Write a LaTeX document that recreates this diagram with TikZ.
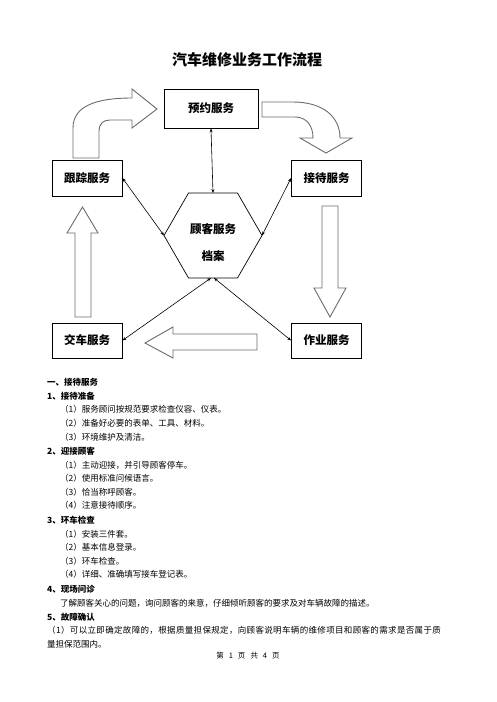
\documentclass[tikz,border=0pt]{standalone}
\usepackage{fontspec}
\setmainfont{Noto Sans CJK SC}
\usepackage{tikz}
\usetikzlibrary{shapes.geometric, arrows.meta, positioning, calc}
\tikzset{
  svcbox/.style={
    draw, line width=0.8pt, minimum width=70pt, minimum height=36pt,
    font=\fontsize{11.5}{13}\selectfont\bfseries, fill=white
  },
  hexshape/.style={
    draw, line width=0.7pt, regular polygon, regular polygon sides=6,
    minimum size=98pt, inner sep=0pt, outer sep=0pt
  },
  linkarrow/.style={
    {Stealth[length=4pt,width=3pt]}-{Stealth[length=4pt,width=3pt]}, line width=0.6pt
  },
  blockarrow/.style={
    draw=gray!85!black, fill=white, line width=0.9pt, line join=miter
  },
  headline/.style={
    anchor=west, inner sep=0pt, font=\fontsize{8.5}{10}\selectfont\bfseries
  },
  bodyline/.style={
    anchor=west, inner sep=0pt, font=\fontsize{8.5}{10}\selectfont
  },
}

\begin{document}
\begin{tikzpicture}[x=1pt, y=-1pt]
  \fill[white] (0,0) rectangle (496,702);
  \useasboundingbox (0,0) rectangle (496,702);

  % --- Title ---
  \node[font=\fontsize{15}{17}\selectfont\bfseries] (title) at (247,60) {汽车维修业务工作流程};

  % --- Service boxes ---
  \node[svcbox, minimum width=94pt, minimum height=39pt] (yy) at (211,108.5) {预约服务};
  \node[svcbox] (gz) at (87,178) {跟踪服务};
  \node[svcbox] (jd) at (326.5,178) {接待服务};
  \node[svcbox, minimum height=35pt] (jc) at (87,340.5) {交车服务};
  \node[svcbox, minimum height=35pt] (zy) at (326.5,340.5) {作业服务};

  % --- Customer file ---
  \node[hexshape] (hex) at (213,235.5) {};
  \node[font=\fontsize{11.5}{27}\selectfont\bfseries, align=center] (hextext)
    at (213,242.5) {顾客服务\\档案};

  % --- Links to the file ---
  \draw[linkarrow] (yy.south) -- (hex.north);
  \draw[linkarrow] (gz.east) -- (hex.180);
  \draw[linkarrow] (jd.west) -- (hex.0);
  \draw[linkarrow] (jc.east) -- ($(hex.south)+(-2,0)$);
  \draw[linkarrow] (zy.west) -- ($(hex.south)+(1,0)$);

  % --- Block arrows of the cycle ---
  \draw[blockarrow] (73,158) -- (73,128) .. controls (73,106) and (96,98) .. (132,98)
    -- (132,89) -- (157,109) -- (132,128) -- (132,120) -- (110,120)
    .. controls (103,120) and (99,124) .. (99,131) -- (99,158) -- cycle;
  \draw[blockarrow] (262,102) -- (293,102) .. controls (322,102) and (340,116) .. (340,138)
    -- (352,138) -- (326,153) -- (300,138) -- (313,138)
    .. controls (313,125) and (306,117) .. (295,117) -- (262,117) -- cycle;
  \draw[blockarrow] (322,206) -- (338,206) -- (338,288) -- (346,288) -- (330,317)
    -- (314,288) -- (322,288) -- cycle;
  \draw[blockarrow] (257,334) -- (173,334) -- (173,327) -- (145,343) -- (173,358)
    -- (173,350) -- (257,350) -- cycle;
  \draw[blockarrow] (75,317) -- (75,233) -- (67,233) -- (82.5,207) -- (98,233)
    -- (91,233) -- (91,317) -- cycle;

  % --- Text below ---
  \node[headline] (h1) at (47,382) {一、接待服务};
  \node[headline] (h11) at (47,396) {1、接待准备};
  \node[bodyline] (t111) at (60,409) {（1）服务顾问按规范要求检查仪容、仪表。};
  \node[bodyline] (t112) at (60,423) {（2）准备好必要的表单、工具、材料。};
  \node[bodyline] (t113) at (60,437) {（3）环境维护及清洁。};
  \node[headline] (h12) at (47,451) {2、迎接顾客};
  \node[bodyline] (t121) at (60,465) {（1）主动迎接，并引导顾客停车。};
  \node[bodyline] (t122) at (60,478) {（2）使用标准问候语言。};
  \node[bodyline] (t123) at (60,492) {（3）恰当称呼顾客。};
  \node[bodyline] (t124) at (60,505) {（4）注意接待顺序。};
  \node[headline] (h13) at (47,520) {3、环车检查};
  \node[bodyline] (t131) at (60,534) {（1）安装三件套。};
  \node[bodyline] (t132) at (60,547) {（2）基本信息登录。};
  \node[bodyline] (t133) at (60,561) {（3）环车检查。};
  \node[bodyline] (t134) at (60,574) {（4）详细、准确填写接车登记表。};
  \node[headline] (h14) at (47,589) {4、现场问诊};
  \node[bodyline] (t141) at (60,603) {了解顾客关心的问题，询问顾客的来意，仔细倾听顾客的要求及对车辆故障的描述。};
  \node[headline] (h15) at (47,617) {5、故障确认};
  \node[bodyline, font=\fontsize{8.5}{10}\selectfont\addfontfeature{LetterSpace=4}] (t151) at (47,630)
    {（1）可以立即确定故障的，根据质量担保规定，向顾客说明车辆的维修项目和顾客的需求是否属于质};
  \node[bodyline] (t152) at (47,644) {量担保范围内。};

  % --- Footer ---
  \node[font=\fontsize{7.5}{9}\selectfont] (foot) at (248,656)
    {第\hspace{5pt}1\hspace{5pt}页\hspace{5pt}共\hspace{5pt}4\hspace{5pt}页};
\end{tikzpicture}
\end{document}
